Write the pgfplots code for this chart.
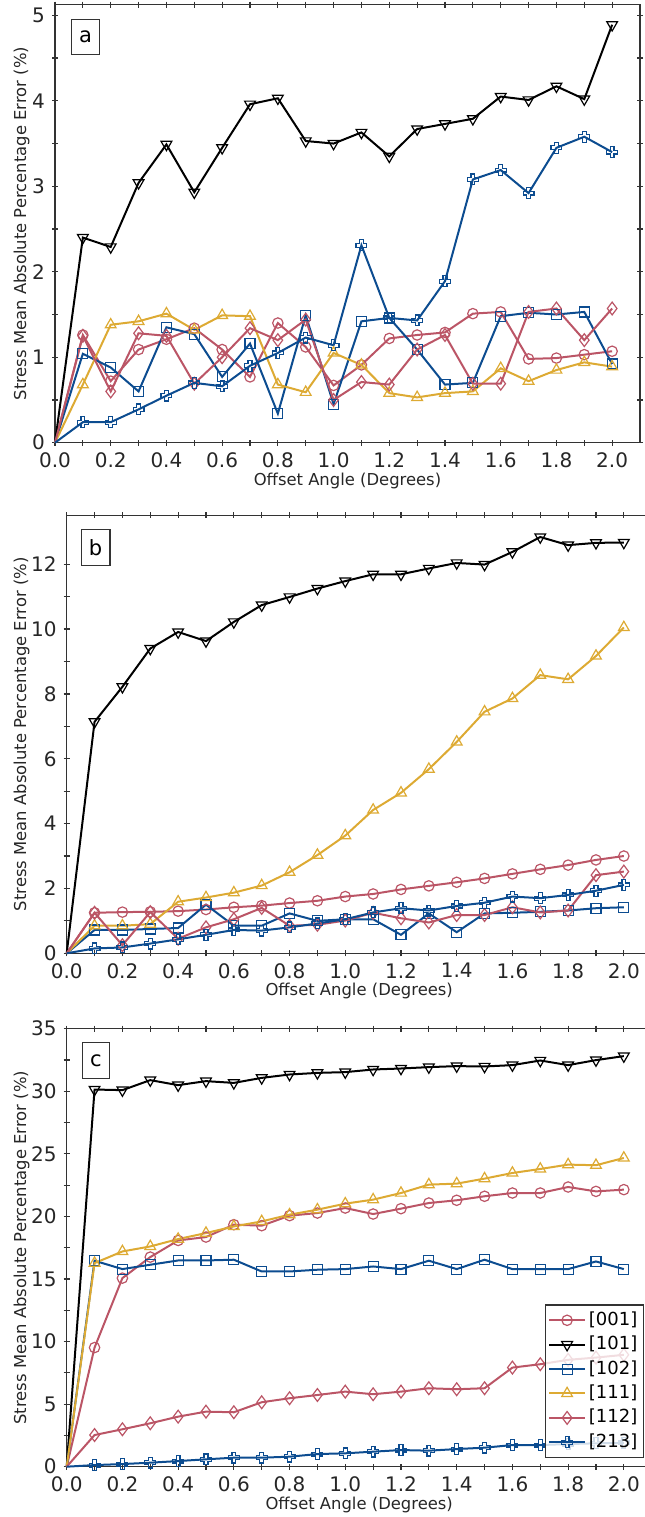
\documentclass[border=0pt]{standalone}
\usepackage{fontspec}
\setmainfont{DejaVu Sans}
\usepackage{pgfplots}
\usepackage{pgfplotstable}
\pgfplotsset{compat=1.18}
\definecolor{tred}{HTML}{BB5566}
\definecolor{tblue}{HTML}{0C4C90}
\definecolor{tyellow}{HTML}{DDAA33}
\definecolor{frame}{HTML}{333333}

\pgfdeclareplotmark{thickplus}{%
  \pgfmathsetlengthmacro\pmE{\pgfplotmarksize}%
  \pgfmathsetlengthmacro\pmT{0.36*\pgfplotmarksize}%
  \pgfpathmoveto{\pgfpoint{-\pmT}{-\pmE}}%
  \pgfpathlineto{\pgfpoint{\pmT}{-\pmE}}%
  \pgfpathlineto{\pgfpoint{\pmT}{-\pmT}}%
  \pgfpathlineto{\pgfpoint{\pmE}{-\pmT}}%
  \pgfpathlineto{\pgfpoint{\pmE}{\pmT}}%
  \pgfpathlineto{\pgfpoint{\pmT}{\pmT}}%
  \pgfpathlineto{\pgfpoint{\pmT}{\pmE}}%
  \pgfpathlineto{\pgfpoint{-\pmT}{\pmE}}%
  \pgfpathlineto{\pgfpoint{-\pmT}{\pmT}}%
  \pgfpathlineto{\pgfpoint{-\pmE}{\pmT}}%
  \pgfpathlineto{\pgfpoint{-\pmE}{-\pmT}}%
  \pgfpathlineto{\pgfpoint{-\pmT}{-\pmT}}%
  \pgfpathclose
  \pgfusepathqstroke}

\pgfplotstableread{
x     a     b     c     d     e     f
0.0   0     0     0     0     0     0
0.1   1.26  2.40  1.04  0.68  1.25  0.24
0.2   0.72  2.29  0.88  1.38  0.60  0.24
0.3   1.09  3.04  0.60  1.42  1.28  0.39
0.4   1.21  3.49  1.35  1.51  1.25  0.55
0.5   1.34  2.93  1.27  1.32  0.69  0.70
0.6   1.09  3.45  0.77  1.49  1.00  0.66
0.7   0.77  3.96  1.16  1.48  1.34  0.90
0.8   1.40  4.03  0.34  0.68  1.20  1.05
0.9   1.12  3.53  1.49  0.59  1.44  1.23
1.0   0.67  3.50  0.45  1.05  0.50  1.14
1.1   0.91  3.63  1.42  0.91  0.71  2.31
1.2   1.22  3.35  1.46  0.58  0.68  1.46
1.3   1.26  3.67  1.09  0.53  1.09  1.43
1.4   1.29  3.73  0.68  0.58  1.26  1.89
1.5   1.51  3.79  0.70  0.60  0.69  3.08
1.6   1.53  4.05  1.48  0.87  0.69  3.19
1.7   0.98  4.01  1.52  0.72  1.53  2.92
1.8   0.99  4.17  1.50  0.85  1.57  3.45
1.9   1.03  4.02  1.53  0.94  1.20  3.58
2.0   1.07  4.89  0.92  0.89  1.57  3.40
}\dataA

\pgfplotstableread{
x     a     b      c     d      e     f
0.0   0     0      0     0      0     0
0.1   1.25  7.14   0.72  0.85   1.25  0.15
0.2   1.27  8.22   0.72  0.85   0.25  0.18
0.3   1.28  9.40   0.75  0.90   1.27  0.30
0.4   1.30  9.91   0.78  1.59   0.45  0.43
0.5   1.35  9.63   1.50  1.72   0.80  0.57
0.6   1.42  10.22  0.85  1.87   1.05  0.72
0.7   1.47  10.74  0.85  2.09   1.40  0.70
0.8   1.55  10.99  1.23  2.50   0.85  0.80
0.9   1.62  11.25  1.00  3.03   0.88  0.92
1.0   1.75  11.48  1.05  3.63   1.01  1.05
1.1   1.83  11.69  1.05  4.42   1.25  1.26
1.2   1.97  11.69  0.57  4.95   1.08  1.39
1.3   2.08  11.87  1.23  5.68   0.95  1.32
1.4   2.19  12.04  0.65  6.52   1.18  1.46
1.5   2.31  11.99  1.23  7.45   1.18  1.56
1.6   2.45  12.38  1.25  7.86   1.42  1.75
1.7   2.59  12.84  1.28  8.58   1.26  1.70
1.8   2.72  12.59  1.32  8.45   1.32  1.80
1.9   2.88  12.66  1.39  9.17   2.41  1.93
2.0   3.00  12.67  1.42  10.05  2.52  2.11
}\dataB

\pgfplotstableread{
x     a      b      c      d      e     f
0.0   0      0      0      0      0     0
0.1   9.52   30.14  16.46  16.27  2.53  0.13
0.2   15.07  30.09  15.79  17.20  2.99  0.21
0.3   16.75  30.89  16.14  17.60  3.47  0.32
0.4   18.08  30.49  16.48  18.19  4.00  0.45
0.5   18.35  30.81  16.48  18.67  4.40  0.59
0.6   19.34  30.67  16.54  19.20  4.35  0.72
0.7   19.26  31.07  15.60  19.60  5.15  0.72
0.8   20.06  31.34  15.60  20.14  5.47  0.80
0.9   20.27  31.47  15.74  20.54  5.73  1.01
1.0   20.67  31.53  15.79  21.02  6.00  1.07
1.1   20.19  31.74  16.00  21.34  5.79  1.20
1.2   20.62  31.82  15.79  21.87  6.00  1.33
1.3   21.07  31.93  16.46  22.54  6.27  1.28
1.4   21.29  32.01  15.79  22.62  6.19  1.41
1.5   21.61  31.98  16.54  23.02  6.27  1.52
1.6   21.87  32.09  15.79  23.47  7.92  1.73
1.7   21.87  32.46  15.79  23.79  8.19  1.73
1.8   22.35  32.09  15.79  24.14  8.54  1.81
1.9   22.00  32.49  16.40  24.09  8.72  1.87
2.0   22.14  32.81  15.79  24.67  8.94  1.90
}\dataC

\pgfplotsset{
  panel/.style={
    scale only axis, width=292.5pt, height=219pt,
    xmin=0, xmax=2.1,
    xtick={0,0.2,0.4,0.6,0.8,1.0,1.2,1.4,1.6,1.8,2.0},
    minor x tick num=1, minor y tick num=1,
    xtick pos=both, ytick pos=both,
    xticklabel pos=lower, yticklabel pos=left,
    tick align=center, major tick length=3pt, minor tick length=3pt,
    axis line style={draw=frame, line width=0.7pt},
    every tick/.style={draw=frame, line width=0.6pt},
    /pgf/number format/assume math mode=true,
    tick label style={font=\fontsize{10}{12}\selectfont, text=black!85},
    xticklabel style={/pgf/number format/.cd, fixed, fixed zerofill, precision=1},
    yticklabel style={/pgf/number format/.cd, fixed, precision=0},
    xlabel={Offset Angle (Degrees)},
    ylabel={Stress Mean Absolute Percentage Error (\%)},
    label style={font=\fontsize{8.2}{10}\selectfont, text=black!85},
    xlabel style={at={(axis description cs:0.5,-0.087)}, anchor=center},
    every axis plot/.append style={line width=1pt, mark indices={2,...,21}},
    clip=false,
  },
  s001/.style={tred, mark=o, mark size=2.6pt, mark options={solid, line width=0.6pt, fill=none}},
  s101/.style={black, mark=triangle, mark size=3.1pt, mark options={solid, rotate=180, line width=0.6pt, fill=none}},
  s102/.style={tblue, mark=square, mark size=2.5pt, mark options={solid, line width=0.6pt, fill=none}},
  s111/.style={tyellow, mark=triangle, mark size=3.1pt, mark options={solid, line width=0.6pt, fill=none}},
  s112/.style={tred, mark=diamond, mark size=3.2pt, mark options={solid, line width=0.6pt, fill=none}},
  s213/.style={tblue, mark=thickplus, mark size=2.7pt, mark options={solid, line width=0.6pt, fill=none}},
}

\begin{document}
\begin{tikzpicture}
% panel a
\begin{axis}[panel, at={(27.5pt,537.15pt)}, anchor=south west,
  ymin=0, ymax=5.125, ytick={0,1,2,3,4,5},
  ylabel style={at={(axis description cs:-0.0569,0.5)}, anchor=center}]
\addplot[s001] table[x=x,y=a] {\dataA};
\addplot[s101] table[x=x,y=b] {\dataA};
\addplot[s102] table[x=x,y=c] {\dataA};
\addplot[s111] table[x=x,y=d] {\dataA};
\addplot[s112] table[x=x,y=e] {\dataA};
\addplot[s213] table[x=x,y=f] {\dataA};
\node[draw=frame, line width=0.6pt, anchor=north west, xshift=8pt, yshift=-7pt, minimum width=14pt, minimum height=17.5pt, inner sep=0pt, font=\fontsize{10.5}{12}\selectfont] at (rel axis cs:0,1) {a};
\end{axis}
% panel b
\begin{axis}[panel, at={(33.35pt,281.85pt)}, anchor=south west,
  ymin=0, ymax=13.51, ytick={0,2,4,6,8,10,12},
  ylabel style={at={(axis description cs:-0.0771,0.5)}, anchor=center}]
\addplot[s001] table[x=x,y=a] {\dataB};
\addplot[s101] table[x=x,y=b] {\dataB};
\addplot[s102] table[x=x,y=c] {\dataB};
\addplot[s111] table[x=x,y=d] {\dataB};
\addplot[s112] table[x=x,y=e] {\dataB};
\addplot[s213] table[x=x,y=f] {\dataB};
\node[draw=frame, line width=0.6pt, anchor=north west, xshift=7pt, yshift=-7pt, minimum width=14.3pt, minimum height=18pt, inner sep=0pt, font=\fontsize{10.5}{12}\selectfont] at (rel axis cs:0,1) {b};
\end{axis}
% panel c
\begin{axis}[panel, at={(33.35pt,25.15pt)}, anchor=south west,
  ymin=0, ymax=35, ytick={0,5,10,15,20,25,30,35},
  ylabel style={at={(axis description cs:-0.0771,0.5)}, anchor=center},
  legend style={at={(rel axis cs:1,0)}, anchor=south east, xshift=-4pt, yshift=4.3pt,
    draw=frame, line width=0.6pt, fill=white, fill opacity=0.8, text opacity=1, draw opacity=1,
    font=\fontsize{9}{10}\selectfont, inner sep=1.5pt, row sep=0pt,
    nodes={text height=7.2pt, text depth=2.2pt, inner sep=1.4pt}},
  legend cell align=left,
  legend image code/.code={\draw[mark indices={2}] plot coordinates {(0pt,0pt) (9pt,0pt) (18pt,0pt)};}]
\addplot[s001] table[x=x,y=a] {\dataC};
\addlegendentry{[001]}
\addplot[s101] table[x=x,y=b] {\dataC};
\addlegendentry{[101]}
\addplot[s102] table[x=x,y=c] {\dataC};
\addlegendentry{[102]}
\addplot[s111] table[x=x,y=d] {\dataC};
\addlegendentry{[111]}
\addplot[s112] table[x=x,y=e] {\dataC};
\addlegendentry{[112]}
\addplot[s213] table[x=x,y=f] {\dataC};
\addlegendentry{[213]}
\node[draw=frame, line width=0.6pt, anchor=north west, xshift=7.65pt, yshift=-6.7pt, minimum width=13.4pt, minimum height=17.8pt, inner sep=0pt, font=\fontsize{10.5}{12}\selectfont] at (rel axis cs:0,1) {c};
\end{axis}
\pgfresetboundingbox
\path[use as bounding box] (0,0) rectangle (322pt,758.5pt);
\end{tikzpicture}
\end{document}
